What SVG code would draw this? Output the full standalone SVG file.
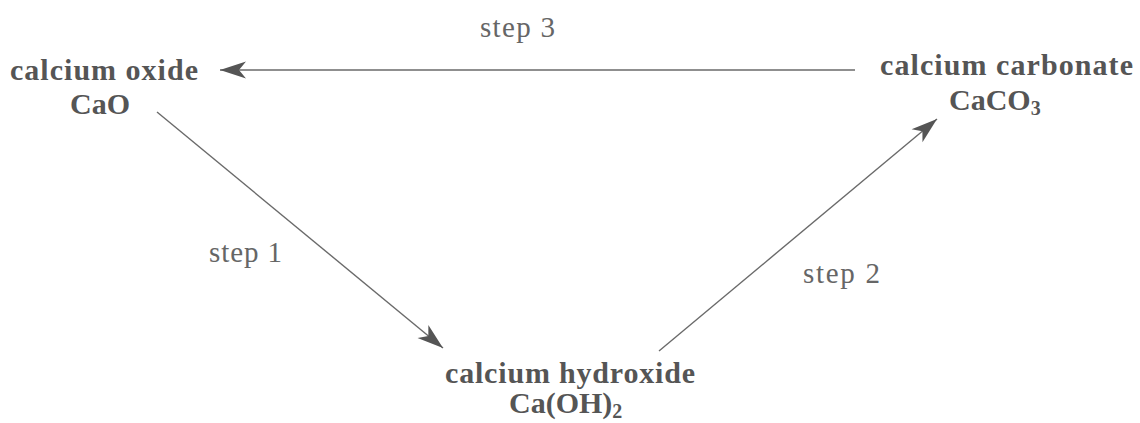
<svg xmlns="http://www.w3.org/2000/svg" width="1140" height="423" viewBox="0 0 1140 423">
<defs>
<style>
.name{font-family:"Liberation Serif","Times New Roman",serif;font-weight:bold;font-size:30px;fill:#555;}
.step{font-family:"Liberation Serif","Times New Roman",serif;font-size:29px;fill:#666;}
.sub{font-size:20px;}
.conn{stroke:#6a6a6a;stroke-width:1.4;fill:none;}
</style>
<marker id="ah" markerUnits="userSpaceOnUse" markerWidth="30" markerHeight="20" viewBox="-27 -10 30 20" refX="0" refY="0" orient="auto">
<path d="M0,0 L-26,-8.5 L-19,0 L-26,8.5 Z" fill="#555"/>
</marker>
</defs>
<rect width="1140" height="423" fill="#fff"/>
<g id="connectors">
<line class="conn" x1="855" y1="70" x2="220" y2="70" marker-end="url(#ah)"/>
<line class="conn" x1="157" y1="112" x2="443" y2="348" marker-end="url(#ah)"/>
<line class="conn" x1="659" y1="351" x2="937" y2="119" marker-end="url(#ah)"/>
<text class="step" x="480" y="37" textLength="75" lengthAdjust="spacing">step 3</text>
<text class="step" x="209" y="262" textLength="73" lengthAdjust="spacing">step 1</text>
<text class="step" x="803" y="283" textLength="77" lengthAdjust="spacing">step 2</text>
</g>
<g id="calcium-oxide">
<text class="name" x="10" y="80" textLength="188" lengthAdjust="spacing">calcium oxide</text>
<text class="name" x="70" y="114" font-size="32">CaO</text>
</g>
<g id="calcium-carbonate">
<text class="name" x="880" y="75" textLength="253" lengthAdjust="spacing">calcium carbonate</text>
<text class="name" x="949" y="110">CaCO<tspan class="sub" dy="5">3</tspan></text>
</g>
<g id="calcium-hydroxide">
<text class="name" x="445" y="383" textLength="250" lengthAdjust="spacing">calcium hydroxide</text>
<text class="name" x="509" y="413">Ca(OH)<tspan class="sub" dy="5">2</tspan></text>
</g>
</svg>
